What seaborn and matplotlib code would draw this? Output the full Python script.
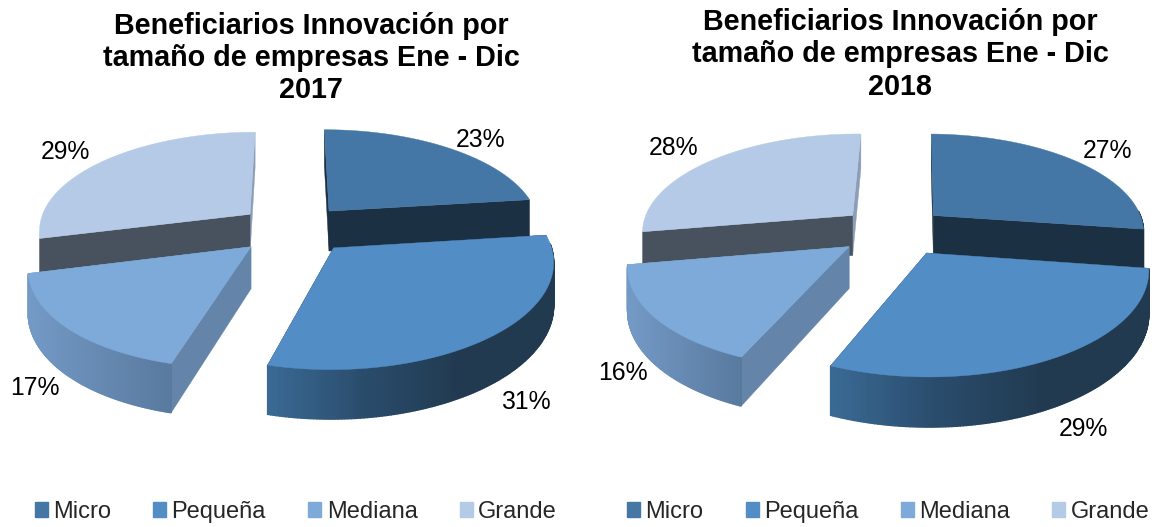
import numpy as np
import matplotlib
matplotlib.use("Agg")
import matplotlib.pyplot as plt
import seaborn as sns
from matplotlib.patches import Patch

# Data
categories = ["Micro", "Pequeña", "Mediana", "Grande"]
values_2017 = [23, 31, 17, 29]
values_2018 = [27, 29, 16, 28]
titles = ["Beneficiarios Innovación por\ntamaño de empresas Ene - Dic\n2017",
          "Beneficiarios Innovación por\ntamaño de empresas Ene - Dic\n2018"]

sns.set_theme(style="white")
plt.rcParams["font.family"] = ["Liberation Sans", "DejaVu Sans"]

top_colors = sns.color_palette(["#4477A6", "#528EC5", "#7EAAD9", "#B4CAE6"])
start_face = ["#1C3043", "#22394F", "#6484A9", "#48525E"]
end_face = ["#1C3043", "#22394F", "#7399C5", "#8C9DB8"]
# Grande shows no outer wall
wall_stops = [["#1C3043", "#1C3043"],
              ["#3A6A94", "#2A4C6C", "#213A50", "#213A50"],
              ["#7399C5", "#597A9F"],
              None]

# pie layout: centre, radii, perspective, depth, explosion, start angle
pies = [
    dict(cx=291, cy=229, a=212, b=98, k=0.145, skew=0.04, depth=41, e=0.25, start=0,
         nudge=[4, 8, 0, 0],
         xlim=(0, 579), label_xy=[(481, 140), (526, 402), (35, 388), (65, 152)],
         title_xy=(311, 58), legend_x=0.06),
    dict(cx=892, cy=231, a=212, b=98, k=0.15, skew=0.015, depth=41, e=0.25, start=1,
         nudge=[2, 8, 0, 0],
         xlim=(579, 1158), label_xy=[(1108, 151), (1083, 429), (623, 373), (674, 148)],
         title_xy=(900, 54.5), legend_x=0.083),
]


def project(p, u, v, z=0.0):
    s = 1 / (1 + p["k"] * v)
    u = u + p["skew"] * np.minimum(v, 0)
    return p["cx"] + p["a"] * u * s, p["cy"] - p["b"] * v * s + p["depth"] * z * s


def draw_pie(ax, values, p):
    vals = np.array(values, dtype=float)
    edges = p["start"] + np.concatenate([[0], np.cumsum(vals / vals.sum() * 360)])
    slices = [(i, edges[i], edges[i + 1]) for i in range(len(vals))]
    # far slices first, polygons stack in drawing order
    order = sorted(slices, key=lambda t: -np.cos(np.radians((t[1] + t[2]) / 2)))
    for i, t0, t1 in order:
        mid = np.radians((t0 + t1) / 2)
        ou = p["e"] * np.sin(mid) + p["nudge"][i] / p["a"]
        ov = p["e"] * np.cos(mid)
        th = np.radians(np.linspace(t0, t1, 160))
        us, vs = ou + np.sin(th), ov + np.cos(th)
        # cut faces, the closing one first so the opening one stays on top
        for ang, col in ((t1, end_face[i]), (t0, start_face[i])):
            r = np.radians(ang)
            q = [project(p, ou, ov), project(p, ou + np.sin(r), ov + np.cos(r)),
                 project(p, ou + np.sin(r), ov + np.cos(r), 1), project(p, ou, ov, 1)]
            ax.fill(*zip(*q), color=col, lw=0.3)
        x_top, y_top = project(p, us, vs)
        x_bot, y_bot = project(p, us, vs, 1)
        front = np.cos(th) <= 0.05
        # outer wall, shaded left to right
        if wall_stops[i] is not None and front.any():
            shades = sns.blend_palette(wall_stops[i], 100)
            x0, x1 = x_top[front].min(), x_top[front].max()
            for j in range(len(th) - 1):
                if not front[j]:
                    continue
                shade = shades[int((x_top[j] - x0) / max(x1 - x0, 1) * 99)]
                ax.fill([x_top[j], x_top[j + 1], x_bot[j + 1], x_bot[j]],
                        [y_top[j], y_top[j + 1], y_bot[j + 1], y_bot[j]],
                        color=shade, lw=1)
        # top face
        x0, y0 = project(p, ou, ov)
        ax.fill(np.r_[x0, x_top], np.r_[y0, y_top], color=top_colors[i], lw=0.3)


fig = plt.figure(figsize=(11.58, 5.27), dpi=100)
for n, (values, p) in enumerate(zip([values_2017, values_2018], pies)):
    ax = fig.add_axes([n * 0.5, 0, 0.5, 1])
    ax.set_xlim(*p["xlim"])
    ax.set_ylim(527, 0)
    ax.axis("off")
    draw_pie(ax, values, p)
    for val, (lx, ly) in zip(values, p["label_xy"]):
        ax.text(lx, ly, f"{val}%", ha="center", va="center", fontsize=17.8, color="black")
    ax.text(*p["title_xy"], titles[n], ha="center", va="center", fontsize=20.7,
            fontweight="bold", color="black", linespacing=1.2)
    handles = [Patch(color=c, label=l) for c, l in zip(top_colors, categories)]
    ax.legend(handles=handles, ncol=4, loc="lower left", bbox_to_anchor=(p["legend_x"], 0.008),
              frameon=False, fontsize=17, handlelength=0.55, handleheight=0.55,
              handletextpad=0.22, columnspacing=1.8, borderpad=0, borderaxespad=0)

fig.savefig("out.png", dpi=100)
